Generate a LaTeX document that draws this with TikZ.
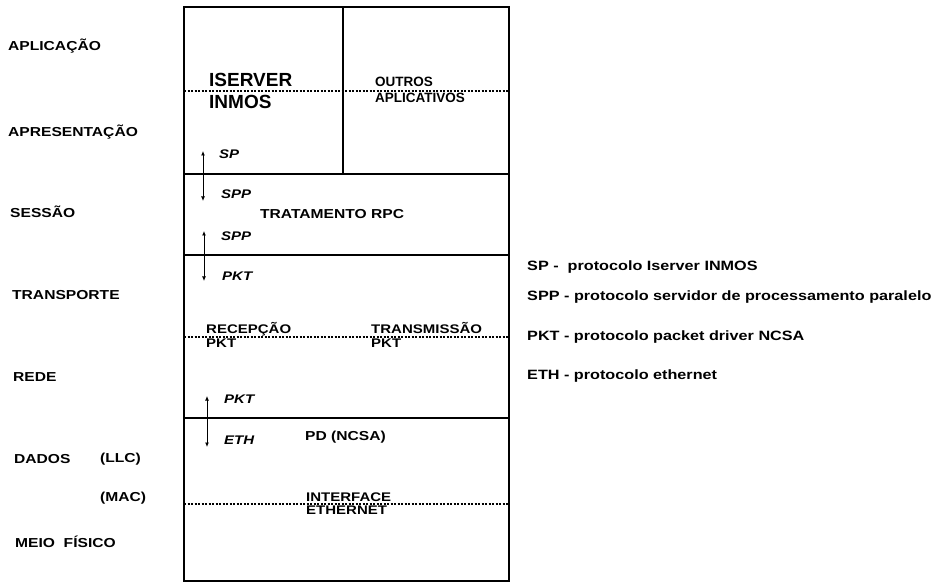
\documentclass[tikz,border=0pt]{standalone}
\usepackage{fontspec}
\setmainfont{Liberation Sans}
\newfontfamily\widefont{Liberation Sans}[FakeStretch=1.2]
\usetikzlibrary{arrows.meta}
\begin{document}
\begin{tikzpicture}[x=1pt,y=-1pt,
    layer/.style={anchor=west,inner sep=0pt,font=\widefont\bfseries\fontsize{13}{15}\selectfont},
    upper/.style={anchor=base west,inner sep=0pt,font=\widefont\bfseries\fontsize{12.5}{14}\selectfont},
    lower/.style={anchor=north west,inner sep=0pt,font=\widefont\bfseries\fontsize{12.5}{14}\selectfont},
    proto/.style={anchor=west,inner sep=0pt,font=\widefont\bfseries\itshape\fontsize{12.5}{14}\selectfont},
    legend/.style={anchor=west,inner sep=0pt,font=\widefont\bfseries\fontsize{13.5}{15}\selectfont},
    sepline/.style={line width=1.7pt},
    cutline/.style={line width=1.4pt,dash pattern=on 2.2pt off 1.3pt},
    flow/.style={line width=1pt,{Latex[length=4.5pt,width=4pt]}-{Latex[length=4.5pt,width=4pt]}}]
  \useasboundingbox (0,0) rectangle (938,588);
  % layer names
  \node[layer] (apl) at (8,46) {APLICAÇÃO};
  \node[layer] (apr) at (8,132) {APRESENTAÇÃO};
  \node[layer] (ses) at (10,212) {SESSÃO};
  \node[layer] (tra) at (12,295) {TRANSPORTE};
  \node[layer] (red) at (13,377) {REDE};
  \node[layer] (dad) at (14,459) {DADOS};
  \node[layer] (llc) at (100,459) {(LLC)};
  \node[layer] (mac) at (100,498) {(MAC)};
  \node[layer] (mei) at (15,542) {MEIO\ \ FÍSICO};
  % box and separations
  \draw[line width=2.8pt] (184,7) rectangle (509,581);
  \draw[line width=2.5pt] (343,7) -- (343,174);
  \draw[sepline] (184,174) -- (509,174);
  \draw[sepline] (184,255) -- (509,255);
  \draw[sepline] (184,418) -- (509,418);
  \draw[cutline] (184,91) -- (509,91);
  \draw[cutline] (184,337) -- (509,337);
  \draw[cutline] (184,504) -- (509,504);
  % modules
  \node[anchor=base west,inner sep=0pt,font=\bfseries\fontsize{19}{21}\selectfont] (iserver) at (209,87) {ISERVER};
  \node[anchor=north west,inner sep=0pt,font=\bfseries\fontsize{19}{21}\selectfont] (inmos) at (209,95) {INMOS};
  \node[anchor=base west,inner sep=0pt,font=\bfseries\fontsize{13.5}{15}\selectfont] (outros) at (375,87) {OUTROS};
  \node[anchor=north west,inner sep=0pt,font=\bfseries\fontsize{13.5}{15}\selectfont] (aplic) at (375,93) {APLICATIVOS};
  \node[layer] (rpc) at (260,214) {TRATAMENTO RPC};
  \node[upper] (recep) at (206,334) {RECEPÇÃO};
  \node[lower] (pktr) at (206,339) {PKT};
  \node[upper] (trans) at (371,334) {TRANSMISSÃO};
  \node[lower] (pktt) at (371,339) {PKT};
  \node[layer] (pd) at (305,437) {PD (NCSA)};
  \node[upper] (iface) at (306,501) {INTERFACE};
  \node[lower] (ether) at (306,506) {ETHERNET};
  % protocols between modules
  \node[proto] (sp) at (219,154) {SP};
  \node[proto] (spp1) at (221,194) {SPP};
  \node[proto] (spp2) at (221,236) {SPP};
  \node[proto] (pkt1) at (222,276) {PKT};
  \node[proto] (pkt2) at (224,399) {PKT};
  \node[proto] (eth) at (224,440) {ETH};
  \coordinate (a1) at (203,151);
  \coordinate (b1) at (203,201);
  \coordinate (a2) at (204,231);
  \coordinate (b2) at (204,281);
  \coordinate (a3) at (207,396);
  \coordinate (b3) at (207,447);
  \draw[flow] (a1) -- (b1);
  \draw[flow] (a2) -- (b2);
  \draw[flow] (a3) -- (b3);
  % legend
  \node[legend] (lsp) at (527,267) {SP -\ \ protocolo Iserver INMOS};
  \node[legend] (lspp) at (527,297) {SPP - protocolo servidor de processamento paralelo};
  \node[legend] (lpkt) at (527,337) {PKT - protocolo packet driver NCSA};
  \node[legend] (leth) at (527,376) {ETH - protocolo ethernet};
\end{tikzpicture}
\end{document}
